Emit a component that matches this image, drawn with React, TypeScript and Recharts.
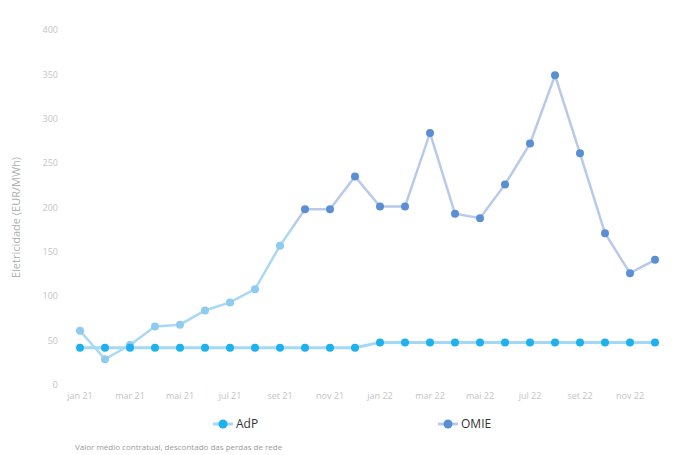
import React from "react";
import { LineChart, Line, XAxis, YAxis, Legend } from "recharts";

// meses jan 21 .. dez 22
const months = [
  "jan 21", "fev 21", "mar 21", "abr 21", "mai 21", "jun 21",
  "jul 21", "ago 21", "set 21", "out 21", "nov 21", "dez 21",
  "jan 22", "fev 22", "mar 22", "abr 22", "mai 22", "jun 22",
  "jul 22", "ago 22", "set 22", "out 22", "nov 22", "dez 22",
];

const adpValues = [42, 42, 42, 42, 42, 42, 42, 42, 42, 42, 42, 42, 48, 48, 48, 48, 48, 48, 48, 48, 48, 48, 48, 48];
const omieValues = [61, 29, 45, 66, 68, 84, 93, 108, 157, 198, 198, 235, 201, 201, 284, 193, 188, 226, 272, 349, 261, 171, 126, 141];

const yTicks = [0, 50, 100, 150, 200, 250, 300, 350, 400];

const data = months.map((m, i) => ({ month: m, AdP: adpValues[i], OMIE: omieValues[i] }));

const FONT = "'Open Sans', 'Liberation Sans', sans-serif";
const ADP_DOT = "#1db1ee";
const ADP_LINE = "#a2d7f5";
const OMIE_DOT = "#5b8fd4";
const OMIE_LINE = "#b9c9ea";
const OMIE_EARLY_DOT = "#8fcaf0";
const OMIE_EARLY_LINE = "#a9d8f5";

const AdpDot = (props: any) => (
  <circle key={`adp-${props.index}`} cx={props.cx} cy={props.cy} r={4} fill={ADP_DOT} />
);

const OmieDot = (props: any) => (
  <circle
    key={`omie-${props.index}`}
    cx={props.cx}
    cy={props.cy}
    r={4}
    fill={props.index <= 8 ? OMIE_EARLY_DOT : OMIE_DOT}
  />
);

const legendSpots: { [k: string]: number } = { AdP: 213, OMIE: 438 };

const renderLegend = (props: any) => {
  const items = [...(props.payload || [])].sort((a: any, b: any) =>
    a.value === "AdP" ? -1 : b.value === "AdP" ? 1 : 0
  );
  return (
    <div style={{ position: "relative", width: 693, height: 20, fontFamily: FONT }}>
      {items.map((it: any) => {
        const dot = it.value === "AdP" ? ADP_DOT : OMIE_DOT;
        const line = it.value === "AdP" ? ADP_LINE : OMIE_LINE;
        return (
          <div
            key={it.value}
            style={{ position: "absolute", left: legendSpots[it.value], top: 0, display: "flex", alignItems: "center" }}
          >
            <svg width={20} height={12}>
              <line x1={0} y1={6} x2={20} y2={6} stroke={line} strokeWidth={3} />
              <circle cx={10} cy={6} r={4.5} fill={dot} />
            </svg>
            <span style={{ marginLeft: 3, fontSize: 12, color: "#333" }}>{it.value}</span>
          </div>
        );
      })}
    </div>
  );
};

const App: React.FC = () => {
  return (
    <div style={{ position: "absolute", left: 0, top: 0, width: 693, height: 455, background: "#fff" }}>
      <LineChart width={693} height={455} data={data} margin={{ top: 30, right: 24, bottom: 50, left: 0 }}>
        <defs>
          <linearGradient id="omieStroke" x1="0" y1="0" x2="1" y2="0">
            <stop offset="0.37" stopColor={OMIE_EARLY_LINE} />
            <stop offset="0.37" stopColor={OMIE_LINE} />
          </linearGradient>
        </defs>
        <XAxis
          dataKey="month"
          interval={1}
          axisLine={false}
          tickLine={false}
          padding={{ left: 14, right: 14 }}
          height={20}
          tick={{ fontSize: 9, fill: "#c4c4c4", fontFamily: FONT }}
        />
        <YAxis
          domain={[0, 400]}
          ticks={yTicks}
          width={66}
          axisLine={false}
          tickLine={false}
          tick={{ fontSize: 9, fill: "#c4c4c4", fontFamily: FONT }}
          label={{
            value: "Eletricidade (EUR/MWh)",
            angle: -90,
            position: "insideLeft",
            offset: 16,
            dx: 0,
            dy: 10,
            style: { textAnchor: "middle", fontSize: 11, fill: "#b0b0b0", fontFamily: FONT },
          }}
        />
        <Legend
          verticalAlign="middle"
          layout="horizontal"
          content={renderLegend}
          wrapperStyle={{ top: 415, left: 0, width: 693 }}
        />
        <Line
          dataKey="OMIE"
          name="OMIE"
          stroke="url(#omieStroke)"
          strokeWidth={2.5}
          dot={OmieDot}
          activeDot={false}
          isAnimationActive={false}
        />
        <Line
          dataKey="AdP"
          name="AdP"
          stroke={ADP_LINE}
          strokeWidth={3}
          dot={AdpDot}
          activeDot={false}
          isAnimationActive={false}
        />
      </LineChart>
      <div
        style={{
          position: "absolute",
          left: 75,
          top: 441,
          fontSize: 8,
          color: "#9a9a9a",
          fontFamily: FONT,
          whiteSpace: "nowrap",
        }}
      >
        Valor médio contratual, descontado das perdas de rede
      </div>
    </div>
  );
};

export default App;
